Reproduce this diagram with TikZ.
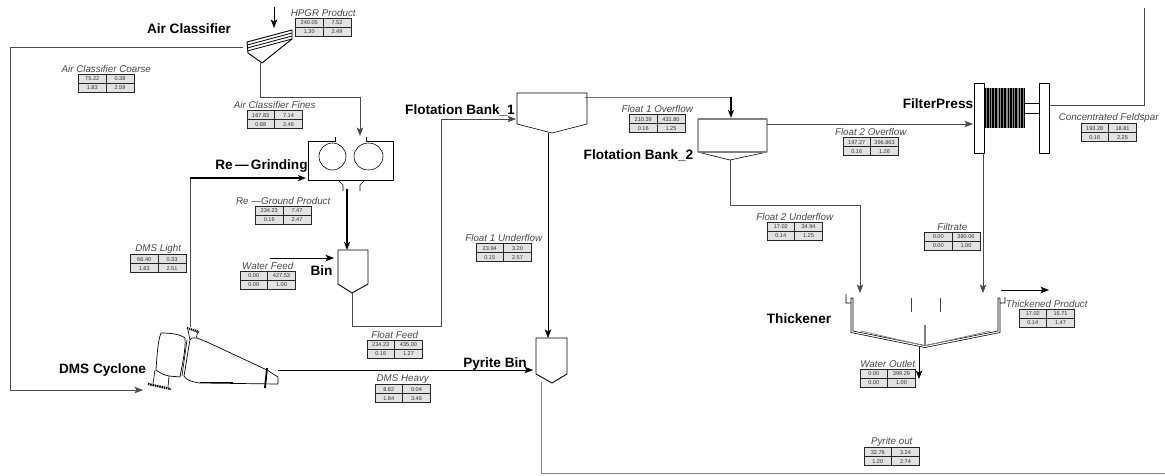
\documentclass[tikz,border=0pt]{standalone}
\usepackage{fontspec}
\setmainfont{Liberation Sans}
\usetikzlibrary{arrows.meta}
\definecolor{cellgray}{HTML}{E2E2E2}
\definecolor{linegray}{HTML}{4A4A4A}
\tikzset{
  unitlabel/.style={font=\bfseries\fontsize{13.6}{14}\selectfont,text=black,inner sep=0pt},
  streamname/.style={font=\itshape\fontsize{9.8}{9.8}\selectfont,text=black!72,inner sep=0pt},
  cellnum/.style={font=\fontsize{5.6}{5.6}\selectfont,text=black!80,inner sep=0pt},
  flow/.style={draw=linegray,line width=0.7pt},
  flowarrow/.style={flow,-{Stealth[length=8.5pt,width=6.5pt,inset=2pt]}},
  strongflow/.style={draw=black,line width=1.2pt,-{Stealth[length=8pt,width=6pt,inset=2pt]}},
  unit/.style={draw=black,line width=0.9pt,line join=round},
  thinunit/.style={draw=black,line width=0.6pt,line join=round},
  tableframe/.style={draw=black!85,line width=1pt,fill=cellgray}
}
\newcommand{\streamtable}[8]{%
  \draw[tableframe] (#2,#3) rectangle ++(55.5,18);
  \draw[draw=black!85,line width=0.9pt] (#2+27.5,#3) -- ++(0,18) (#2,#3+9) -- ++(55.5,0);
  \node[cellnum] (#1a) at (#2+13.75,#3+4.6) {#5};
  \node[cellnum] (#1b) at (#2+41.5,#3+4.6) {#6};
  \node[cellnum] (#1c) at (#2+13.75,#3+13.6) {#7};
  \node[cellnum] (#1d) at (#2+41.5,#3+13.6) {#8};
  \node[streamname] (#1n) at (#2+27.75,#3-5.5) {#4};
}
\begin{document}
\begin{tikzpicture}[x=1pt,y=-1pt]
\useasboundingbox (0,0) rectangle (1165,475);
% connector end points
\coordinate (feedin) at (274,7); \coordinate (acin) at (274,28);
\coordinate (accoarse) at (243,47); \coordinate (cc1) at (10.5,47); \coordinate (cc2) at (10.5,390); \coordinate (dmsin) at (143,390);
\coordinate (actip) at (260,63); \coordinate (fi1) at (260,97); \coordinate (fi2) at (360,97); \coordinate (grindin) at (360,136);
\coordinate (dmslo) at (190,327); \coordinate (li1) at (190,178); \coordinate (grindl) at (306,178);
\coordinate (grindo) at (347,189); \coordinate (binin) at (347,250);
\coordinate (wfin) at (270,258); \coordinate (binw) at (334,258);
\coordinate (bintip) at (352,293); \coordinate (ff1) at (352,326); \coordinate (ff2) at (441.5,326); \coordinate (ff3) at (441.5,119); \coordinate (f1in) at (516,119);
\coordinate (f1tip) at (548,133); \coordinate (pyin) at (548,338);
\coordinate (cyco) at (278,370); \coordinate (pyw) at (533,370);
\coordinate (pyo) at (541,382); \coordinate (po1) at (541,473.5); \coordinate (poend) at (1165,473.5);
\coordinate (f1o) at (585,97); \coordinate (fo1) at (731,97); \coordinate (f2in) at (731,118);
\coordinate (f2o) at (767,124); \coordinate (fpin) at (973,124);
\coordinate (f2tip) at (730,160); \coordinate (u1) at (730,205); \coordinate (u2) at (860,205); \coordinate (thl) at (860,293);
\coordinate (fpo) at (983,153); \coordinate (thr) at (983,293);
\coordinate (fpc) at (1047,105); \coordinate (c1) at (1144.5,105); \coordinate (cend) at (1144.5,8);
\coordinate (thp1) at (1001,290); \coordinate (thp2) at (1049,290);
\coordinate (tho) at (919,347); \coordinate (thw) at (919,379);
% connectors
\draw[flowarrow,black] (feedin) -- (acin);
\draw[flowarrow] (accoarse) -- (cc1) -- (cc2) -- (dmsin);
\draw[flowarrow] (actip) -- (fi1) -- (fi2) -- (grindin);
\draw[flow] (dmslo) -- (li1);
\draw[strongflow] (li1) -- (grindl);
\draw[strongflow] (grindo) -- (binin);
\draw[flowarrow,black] (wfin) -- (binw);
\draw[flowarrow] (bintip) -- (ff1) -- (ff2) -- (ff3) -- (f1in);
\draw[flowarrow,black] (f1tip) -- (pyin);
\draw[flowarrow,black] (cyco) -- (pyw);
\draw[flow,black!50,line width=1pt] (pyo) -- (po1) -- (poend);
\draw[flow,black!55,line width=1pt] (f1o) -- (fo1);
\draw[strongflow] (fo1) -- (f2in);
\draw[flowarrow] (f2o) -- (fpin);
\draw[flowarrow] (f2tip) -- (u1) -- (u2) -- (thl);
\draw[flowarrow] (fpo) -- (thr);
\draw[flow] (fpc) -- (c1) -- (cend);
\draw[flowarrow,black] (thp1) -- (thp2);
\draw[flowarrow,black] (tho) -- (thw);
% Air classifier
\draw[unit] (247,42) -- (292,30) -- (292,39) -- (262,63) -- (248,53) -- cycle;
\foreach \d in {3,6,9}{\draw[thinunit,line width=0.8pt] (247.3,42+\d) -- (292,30+\d);}
% Grinder
\draw[thinunit] (335,137) -- (335,141) -- (308,141) -- (308,180) -- (393,180) -- (393,141) -- (366,141) -- (366,137);
\draw[thinunit] (332.5,156.5) ellipse (13.5 and 13.5);
\draw[thinunit] (368.5,156.5) ellipse (14.5 and 13.5);
\draw[thinunit] (338,180) -- (343,185) -- (343,191);
\draw[thinunit] (365,180) -- (360,185) -- (360,191);
% Bins
\draw[unit] (338,250) -- (368,250) -- (368,284) -- (352,293) -- (338,284) -- cycle;
\draw[unit] (536,338) -- (567,338) -- (567,374) -- (552,383) -- (536,374) -- cycle;
% Flotation banks
\draw[thinunit] (517,93) -- (587,93) -- (587,124) -- (552,133) -- (517,124) -- cycle;
\draw[thinunit] (698,119) -- (767,119) -- (767,152) -- (730,160) -- (698,152) -- cycle;
\draw[draw=black!50,line width=1.1pt] (698,152) -- (767,152) (698,119) -- (767,119);
% Filter press
\fill[black!45] (985,88) rectangle (1025,128);
\foreach \xa/\wd in {985.5/1.2,988/1.2,990.5/1.2,993/1.4,996/2,999.5/1.2,1002/1.2,1005/2.2,1008.5/1.2,1011/1.2,1013.5/1.2,1016/2.4,1019.5/1.2,1022/1.2,1024.2/1.4}{\draw[black,line width=\wd pt] (\xa,88) -- (\xa,128);}
\draw[thinunit,fill=white] (974,83) rectangle (984,153);
\draw[thinunit,fill=white] (1039,83) rectangle (1049,153);
\draw[thinunit] (1025,103) -- (1039,103) (1025,113) -- (1039,113);
% Thickener
\draw[thinunit] (846,294) -- (846,303) -- (851,303) -- (851,298) -- (853,298) -- (853,331) -- (925,345.5) -- (998,331) -- (998,298) -- (1000,298);
\draw[thinunit] (851,303) -- (851,332.5) -- (925,347.5) -- (1000,332.5) -- (1000,298) (1000,303) -- (1005,303) -- (1005,297);
\draw[draw=black!45,line width=0.8pt] (861,331) -- (925,345.8) -- (990,331);
\draw[draw=black!75,line width=1pt] (911,298) -- (911,312) (940,298) -- (940,312);
\draw[draw=black!50,line width=1.2pt] (925,325) -- (925,346);
% DMS cyclone
\draw[unit,line width=0.7pt] (161,333) .. controls (170,333) and (180,334) .. (185,338) .. controls (186,350) and (182,365) .. (180,377) -- (169,376) .. controls (163,375) and (159,372) .. (156,370) .. controls (157,355) and (158,340) .. (161,333) -- cycle;
\draw[unit,line width=0.7pt] (190,340) .. controls (192,337) and (194,338) .. (197,338) -- (207,342) -- (267,370) -- (278,377) -- (278,384) -- (200,383) .. controls (192,382) and (186,380) .. (184,376) .. controls (186,365) and (188,350) .. (190,340) -- cycle;
\draw[thinunit] (187,340) -- (182,376);
\draw[black,line width=1.8pt] (267,368) -- (265,388);
\draw[black,line width=1.2pt] (200,382.7) -- (233,382.7);
\draw[thinunit] (188,330) -- (190,340) (198,332) -- (196,338);
\draw[thinunit] (155,370) -- (153,384) (169,376) -- (168,387);
\draw[black,line width=2.2pt,dash pattern=on 1.2pt off 0.8pt] (187,328) -- (199,332);
\draw[black,line width=2.2pt,dash pattern=on 1.5pt off 0.8pt] (148,384) -- (171,389);
% Unit names
\node[unitlabel] (nac) at (189,29) {Air Classifier};
\node[unitlabel] (nrg) at (261.5,166) {Re\,—\,Grinding};
\node[unitlabel] (nf1) at (460,110) {Flotation Bank\_1};
\node[unitlabel] (nf2) at (638.5,155) {Flotation Bank\_2};
\node[unitlabel] (nfp) at (938,104) {FilterPress};
\node[unitlabel] (nbin) at (321.5,271) {Bin};
\node[unitlabel] (ndc) at (102.5,370) {DMS Cyclone};
\node[unitlabel] (npb) at (495,364) {Pyrite Bin};
\node[unitlabel] (nth) at (799,319) {Thickener};
% Stream tables
\streamtable{s1}{295.5}{18}{HPGR Product}{240.05}{7.52}{1.30}{2.49}
\streamtable{s2}{78.5}{74}{Air Classifier Coarse}{75.22}{0.38}{1.83}{2.59}
\streamtable{s3}{247}{110.5}{Air Classifier Fines}{167.83}{7.14}{0.88}{2.46}
\streamtable{s4}{255.5}{206}{Re —Ground Product}{234.23}{7.47}{0.16}{2.47}
\streamtable{s5}{130.5}{254.5}{DMS Light}{66.40}{0.33}{1.83}{2.51}
\streamtable{s6}{240}{271}{Water Feed}{0.00}{427.53}{0.00}{1.00}
\streamtable{s7}{367}{340}{Float Feed}{234.23}{435.00}{0.16}{1.27}
\streamtable{s8}{375}{384.5}{DMS Heavy}{8.82}{0.04}{1.84}{3.46}
\streamtable{s9}{476}{243.5}{Float 1 Underflow}{23.94}{3.20}{0.15}{2.57}
\streamtable{s10}{629.5}{114.5}{Float 1 Overflow}{210.39}{431.80}{0.16}{1.25}
\streamtable{s11}{767}{222}{Float 2 Underflow}{17.02}{34.94}{0.14}{1.25}
\streamtable{s12}{843}{137.5}{Float 2 Overflow}{197.27}{396.863}{0.16}{1.26}
\streamtable{s13}{1081}{123.5}{Concentrated Feldspar}{193.28}{18.81}{0.16}{2.25}
\streamtable{s14}{924.5}{232}{Filtrate}{0.00}{380.06}{0.00}{1.00}
\streamtable{s15}{1019}{309}{Thickened Product}{17.02}{15.71}{0.14}{1.47}
\streamtable{s16}{860}{369}{Water Outlet}{0.00}{399.29}{0.00}{1.00}
\streamtable{s17}{864}{447.5}{Pyrite out}{32.76}{3.24}{1.20}{2.74}
\end{tikzpicture}
\end{document}
